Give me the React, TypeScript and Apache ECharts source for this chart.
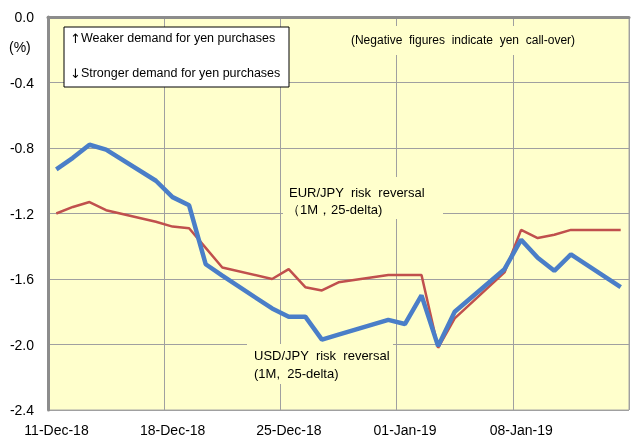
import React, { useEffect, useRef } from "react";
import * as echarts from "echarts";

const dates = [
  "2018-12-11", "2018-12-12", "2018-12-13", "2018-12-14", "2018-12-17",
  "2018-12-18", "2018-12-19", "2018-12-20", "2018-12-21", "2018-12-24",
  "2018-12-25", "2018-12-26", "2018-12-27", "2018-12-28", "2018-12-31",
  "2019-01-01", "2019-01-02", "2019-01-03", "2019-01-04", "2019-01-07",
  "2019-01-08", "2019-01-09", "2019-01-10", "2019-01-11", "2019-01-14",
];
const usdJpy = [
  -0.93, -0.86, -0.78, -0.81, -1.0,
  -1.10, -1.15, -1.51, -1.58, -1.78,
  -1.83, -1.83, -1.97, -1.94, -1.85,
  -1.875, -1.70, -2.01, -1.80, -1.54,
  -1.36, -1.47, -1.55, -1.45, -1.65,
];
const eurJpy = [
  -1.20, -1.16, -1.13, -1.18, -1.25,
  -1.28, -1.29, -1.41, -1.53, -1.60,
  -1.54, -1.65, -1.67, -1.62, -1.575,
  -1.575, -1.575, -2.02, -1.84, -1.56,
  -1.30, -1.35, -1.33, -1.30, -1.30,
];
const xTickLabels = ["11-Dec-18", "18-Dec-18", "25-Dec-18", "01-Jan-19", "08-Jan-19"];

const FONT = "'Liberation Sans', Arial, sans-serif";

export default function App() {
  const ref = useRef<HTMLDivElement>(null);
  useEffect(() => {
    if (!ref.current) return;
    const chart = echarts.init(ref.current, null, { renderer: "svg" });
    const t0 = Date.parse(dates[0]);
    const xs = dates.map((d) => (Date.parse(d) - t0) / 86400000 + 0.5);
    const usd = xs.map((x, i) => [x, usdJpy[i]]);
    const eur = xs.map((x, i) => [x, eurJpy[i]]);
    const bg = "#FFFFCC";
    const arrowRich = {
      a: { fontFamily: "'DejaVu Sans', sans-serif", fontSize: 13, fill: "#000" },
      t: { fontFamily: FONT, fontSize: 12.5, fill: "#000" },
    };
    chart.setOption({
      animation: false,
      textStyle: { fontFamily: FONT },
      grid: {
        left: 48, right: 1, top: 17, bottom: 29,
        show: true, backgroundColor: bg, borderColor: "#A8A8A8", borderWidth: 1,
      },
      xAxis: {
        type: "value", min: 0, max: 35, interval: 7,
        axisLine: { show: true, lineStyle: { color: "#8C8C8C", width: 3 } },
        axisTick: { show: false },
        splitLine: { show: true, lineStyle: { color: "#A0A0A0", width: 1 } },
        axisLabel: {
          color: "#000", fontSize: 14, fontFamily: FONT, margin: 13,
          padding: [0, 0, 0, 17],
          formatter: (v: number) => xTickLabels[Math.round(v / 7)] ?? "",
        },
      },
      yAxis: {
        type: "value", min: -2.4, max: 0, interval: 0.4,
        axisLine: { show: true, lineStyle: { color: "#8C8C8C", width: 3 } },
        axisTick: { show: false },
        splitLine: { show: true, lineStyle: { color: "#A0A0A0", width: 1 } },
        axisLabel: {
          color: "#000", fontSize: 14, fontFamily: FONT, margin: 14,
          formatter: (v: number) => (Math.abs(v) < 1e-9 ? "0.0" : v.toFixed(1)),
        },
      },
      graphic: [
        { type: "text", left: 9, top: 40, z: 10, style: { text: "(%)", fontSize: 14, fontFamily: FONT, fill: "#000" } },
        { type: "rect", z: 10, shape: { x: 64, y: 27, width: 225, height: 60 }, style: { fill: "#fff", stroke: "#000", lineWidth: 1 } },
        { type: "text", z: 11, x: 70, y: 38, style: { text: "{a|↑}{t|Weaker demand for yen purchases}", rich: arrowRich, verticalAlign: "middle" } },
        { type: "text", z: 11, x: 70, y: 73, style: { text: "{a|↓}{t|Stronger demand for yen purchases}", rich: arrowRich, verticalAlign: "middle" } },
        { type: "rect", z: 1, shape: { x: 340, y: 26, width: 245, height: 29 }, style: { fill: bg } },
        { type: "text", z: 11, x: 463, y: 40, style: { text: "(Negative  figures  indicate  yen  call-over)", fontSize: 12, fontFamily: FONT, fill: "#000", align: "center", verticalAlign: "middle" } },
        { type: "rect", z: 1, shape: { x: 283, y: 177, width: 160, height: 42 }, style: { fill: bg } },
        { type: "text", z: 11, x: 289, y: 192, style: { text: "EUR/JPY  risk  reversal", fontSize: 13, fontFamily: FONT, fill: "#000", verticalAlign: "middle" } },
        { type: "text", z: 11, x: 287, y: 209, style: { text: "（1M，25-delta)", fontSize: 13, fontFamily: FONT, fill: "#000", verticalAlign: "middle" } },
        { type: "rect", z: 1, shape: { x: 247, y: 344, width: 146, height: 40 }, style: { fill: bg } },
        { type: "text", z: 11, x: 254, y: 355, style: { text: "USD/JPY  risk  reversal", fontSize: 13, fontFamily: FONT, fill: "#000", verticalAlign: "middle" } },
        { type: "text", z: 11, x: 254, y: 373, style: { text: "(1M,  25-delta)", fontSize: 13, fontFamily: FONT, fill: "#000", verticalAlign: "middle" } },
      ],
      series: [
        {
          name: "EUR/JPY", type: "line", data: eur, showSymbol: false, z: 5,
          lineStyle: { color: "#C0504D", width: 2.5 },
        },
        {
          name: "USD/JPY", type: "line", data: usd, showSymbol: false, z: 6,
          lineStyle: { color: "#4A7EC8", width: 4.5 },
        },
      ],
    });
    return () => chart.dispose();
  }, []);
  return (
    <div
      ref={ref}
      style={{ position: "fixed", left: 0, top: 0, width: 632, height: 439 }}
    />
  );
}
